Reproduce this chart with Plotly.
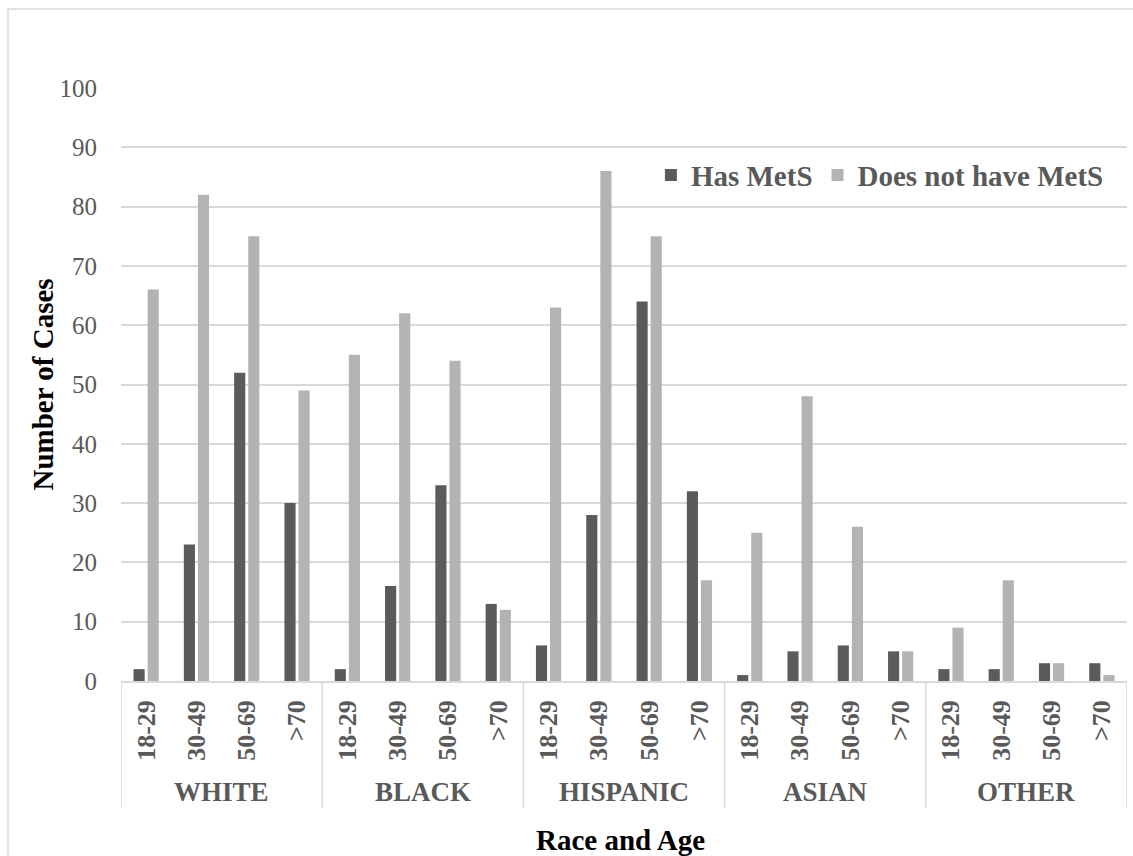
import plotly.graph_objects as go

races = ["WHITE", "BLACK", "HISPANIC", "ASIAN", "OTHER"]
ages = ["18-29", "30-49", "50-69", ">70"]
has_mets = [2, 23, 52, 30,
            2, 16, 33, 13,
            6, 28, 64, 32,
            1, 5, 6, 5,
            2, 2, 3, 3]
no_mets = [66, 82, 75, 49,
           55, 62, 54, 12,
           63, 86, 75, 17,
           25, 48, 26, 5,
           9, 17, 3, 1]
y_ticks = list(range(0, 101, 10))

cats = [f"{r}|{a}" for r in races for a in ages]
tick_text = [a for r in races for a in ages]

FONT = "Liberation Serif"
GREY_TXT = "#595959"
GRID = "#d9d9d9"

fig = go.Figure()
fig.add_trace(go.Bar(x=cats, y=has_mets, name="Has MetS",
                     marker=dict(color="#5b5b5b", line=dict(width=0))))
fig.add_trace(go.Bar(x=cats, y=no_mets, name="Does not have MetS",
                     marker=dict(color="#b3b3b3", line=dict(width=0))))

n_per = len(ages)
shapes = []
for i in range(len(races) + 1):
    xv = i * n_per - 0.5
    shapes.append(dict(type="line", xref="x", yref="paper", x0=xv, x1=xv,
                       y0=0, y1=-0.214, line=dict(color=GRID, width=1.5)))
# outer chart border
shapes.append(dict(type="rect", xref="paper", yref="paper",
                   x0=-0.1123, x1=1.02, y0=-0.32, y1=1.1332,
                   line=dict(color=GRID, width=1.5), layer="below"))

annotations = []
for i, r in enumerate(races):
    annotations.append(dict(x=i * n_per + (n_per - 1) / 2, xref="x", y=-0.187, yref="paper",
                            text=r, showarrow=False, yanchor="middle",
                            font=dict(family=FONT, size=27, color=GREY_TXT, weight="bold")))
annotations.append(dict(x=0.497, xref="paper", y=-0.268, yref="paper",
                        text="Race and Age", showarrow=False, yanchor="middle",
                        font=dict(family=FONT, size=29, color="black", weight="bold")))
annotations.append(dict(x=-0.0785, xref="paper", y=0.5, yref="paper",
                        text="Number of Cases", showarrow=False, textangle=-90,
                        xanchor="center", yanchor="middle",
                        font=dict(family=FONT, size=29, color="black", weight="bold")))

fig.update_layout(
    width=1133, height=856, autosize=False,
    margin=dict(l=121, r=6, t=88, b=175),
    paper_bgcolor="white", plot_bgcolor="white",
    barmode="group", bargap=0.44, bargroupgap=0.21,
    showlegend=True,
    legend=dict(orientation="h", x=0.982, xanchor="right", y=0.853, yanchor="middle",
                font=dict(family=FONT, size=29, color=GREY_TXT, weight="bold"),
                bgcolor="rgba(0,0,0,0)", traceorder="normal", itemwidth=30),
    shapes=shapes, annotations=annotations,
    xaxis=dict(type="category", categoryorder="array", categoryarray=cats,
               tickvals=cats, ticktext=tick_text, tickangle=-90,
               tickfont=dict(family=FONT, size=26, color=GREY_TXT, weight="bold"),
               showline=True, linecolor=GRID, linewidth=1.5, ticks="",
               ticklabelstandoff=7, range=[-0.5, len(cats) - 0.5], showgrid=False),
    yaxis=dict(range=[0, 100], tickvals=y_ticks, showgrid=True, gridcolor=GRID, gridwidth=1.5,
               zeroline=False, showline=False, ticks="",
               tickfont=dict(family=FONT, size=25, color=GREY_TXT),
               ticklabelstandoff=23),
)

fig.write_html("out.html")
